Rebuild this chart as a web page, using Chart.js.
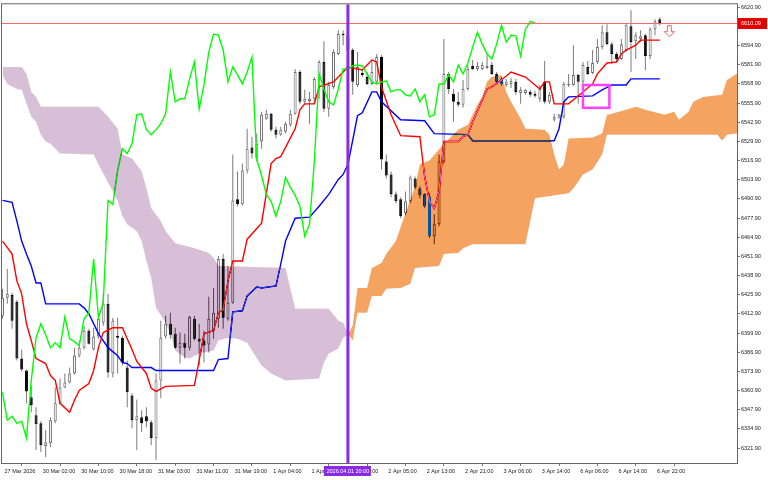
<!DOCTYPE html>
<html>
<head>
<meta charset="utf-8">
<script src="https://cdn.jsdelivr.net/npm/chart.js@4.4.1/dist/chart.umd.min.js"></script>
<style>
  html, body { margin: 0; padding: 0; background: #fff; }
  canvas { display: block; }
</style>
</head>
<body>
<canvas id="chart" width="768" height="480"></canvas>
<script>
// H1 bars, bar 0 = 27 Mar 2026 16:00 ... bar 137 = 6 Apr 23:00
const OPEN = [
  6411.6,6423.8,6425.8,6421.1,6382.6,6374.5,6356.3,6344.1,6338.7,6323.2,
  6325.2,6340.1,6352.2,6363.0,6366.4,6372.5,6384.6,6390.0,6401.5,6388.7,
  6397.5,6406.9,6419.7,6372.5,6398.1,6396.8,6376.5,6357.6,6340.8,6342.8,
  6343.5,6339.4,6328.6,6367.8,6397.5,6406.2,6399.5,6390.0,6393.4,6390.0,
  6409.6,6396.1,6394.8,6392.1,6401.5,6409.6,6450.1,6409.6,6420.4,6490.6,
  6487.2,6510.2,6525.7,6518.3,6529.8,6545.3,6548.7,6537.9,6534.5,6536.5,
  6541.2,6548.7,6577.0,6556.8,6557.4,6558.8,6572.3,6583.8,6552.0,6566.9,
  6589.2,6602.7,6602.0,6591.9,6568.2,6576.3,6573.6,6568.9,6570.3,6587.1,
  6516.3,6507.5,6494.0,6490.6,6481.2,6489.3,6504.8,6498.0,6494.0,6492.6,
  6465.6,6473.7,6516.3,6575.7,6562.2,6556.8,6554.7,6565.5,6581.1,6579.0,
  6579.0,6579.7,6581.7,6575.7,6572.3,6568.2,6568.9,6570.3,6562.8,6562.8,
  6563.5,6562.2,6558.8,6570.3,6556.8,6544.6,6546.0,6546.6,6568.2,6568.2,
  6575.0,6570.3,6580.4,6576.3,6583.8,6593.9,6604.0,6595.9,6589.2,6585.8,
  6591.9,6608.1,6597.9,6599.3,6602.0,6587.8,6606.0,6612.8
];
const HIGH = [
  6429.9,6443.4,6427.2,6422.4,6388.7,6375.2,6364.4,6349.5,6340.1,6334.0,
  6342.8,6363.0,6369.1,6372.5,6376.5,6390.0,6394.8,6404.9,6402.9,6403.5,
  6413.7,6426.5,6426.5,6410.3,6410.3,6398.1,6381.3,6359.0,6354.9,6347.5,
  6349.5,6340.8,6372.5,6408.3,6411.6,6413.7,6403.5,6400.2,6399.5,6411.6,
  6411.6,6406.2,6401.5,6424.5,6430.5,6452.1,6453.5,6445.4,6521.0,6509.5,
  6514.9,6538.5,6533.1,6535.2,6550.0,6551.4,6549.3,6539.9,6539.9,6543.3,
  6551.4,6579.0,6578.4,6564.9,6563.5,6573.6,6585.1,6597.9,6570.3,6592.5,
  6605.4,6605.4,6605.4,6593.2,6590.5,6579.0,6577.0,6583.8,6589.2,6588.5,
  6521.0,6509.5,6496.0,6492.0,6496.0,6506.8,6506.1,6499.4,6494.7,6494.7,
  6480.5,6521.0,6599.3,6577.0,6565.5,6563.5,6571.6,6581.7,6585.1,6583.8,
  6583.8,6588.5,6583.8,6577.0,6573.6,6572.3,6573.0,6572.3,6566.9,6565.5,
  6564.9,6564.2,6568.2,6584.4,6563.5,6548.7,6548.7,6570.3,6575.7,6595.2,
  6575.7,6583.8,6584.4,6591.9,6599.3,6608.7,6609.4,6597.3,6590.5,6599.3,
  6609.4,6618.9,6604.0,6605.4,6602.7,6607.4,6612.8,6614.1
];
const LOW = [
  6409.6,6419.7,6402.9,6381.3,6373.8,6352.2,6346.2,6320.5,6319.2,6315.8,
  6322.5,6338.7,6351.6,6362.4,6365.7,6371.8,6383.3,6388.7,6392.1,6388.0,
  6396.1,6404.9,6369.8,6369.8,6372.5,6377.9,6349.5,6335.4,6320.5,6332.7,
  6336.0,6323.9,6313.8,6355.6,6396.1,6396.1,6389.4,6379.2,6382.6,6388.0,
  6394.8,6377.9,6379.9,6386.7,6396.1,6403.5,6402.9,6408.3,6419.7,6485.9,
  6486.6,6508.2,6518.3,6516.3,6525.0,6544.6,6536.5,6531.8,6533.8,6535.2,
  6539.9,6548.0,6555.4,6555.4,6541.9,6556.8,6558.8,6550.0,6546.6,6565.5,
  6588.5,6595.2,6590.5,6561.5,6566.9,6573.6,6568.2,6568.2,6568.9,6510.9,
  6504.8,6492.0,6487.9,6477.8,6479.8,6487.9,6497.4,6491.3,6484.5,6464.3,
  6460.2,6472.4,6514.9,6562.2,6543.3,6553.4,6552.7,6564.2,6578.4,6577.7,
  6578.4,6579.0,6575.0,6568.9,6567.6,6566.9,6566.2,6561.5,6555.4,6561.5,
  6560.1,6559.5,6556.8,6555.4,6555.4,6543.3,6545.3,6545.3,6566.9,6567.6,
  6555.4,6568.9,6575.0,6575.7,6582.4,6592.5,6595.2,6582.4,6583.8,6585.1,
  6590.5,6577.0,6585.8,6597.3,6578.4,6585.8,6602.0,6608.7
];
const CLOSE = [
  6423.8,6426.5,6408.3,6382.6,6375.2,6360.3,6350.9,6338.1,6323.9,6325.9,
  6340.8,6352.2,6363.0,6366.4,6372.5,6384.6,6390.0,6401.5,6392.7,6397.5,
  6409.6,6419.7,6373.2,6408.3,6396.8,6379.9,6359.7,6340.8,6343.5,6338.7,
  6340.1,6328.6,6367.8,6396.8,6406.2,6398.8,6390.0,6393.4,6390.0,6411.0,
  6396.1,6394.1,6391.4,6409.6,6413.7,6450.1,6410.3,6420.4,6489.9,6487.2,
  6510.2,6525.0,6521.7,6528.4,6548.0,6548.7,6537.9,6534.5,6537.9,6541.9,
  6548.7,6577.0,6556.8,6558.8,6558.8,6572.3,6583.8,6552.0,6568.2,6590.5,
  6602.7,6602.0,6591.9,6570.3,6580.4,6575.0,6568.9,6577.0,6587.1,6517.6,
  6506.8,6494.0,6489.3,6479.1,6489.3,6505.5,6498.7,6493.3,6485.9,6465.6,
  6473.7,6516.3,6575.7,6565.5,6556.8,6554.7,6565.5,6579.0,6579.0,6581.1,
  6581.7,6581.1,6575.7,6570.3,6568.9,6570.3,6570.9,6563.5,6564.9,6564.9,
  6561.5,6560.8,6565.5,6556.8,6561.5,6546.6,6548.0,6568.9,6568.9,6575.0,
  6570.3,6581.7,6575.7,6583.1,6593.9,6604.0,6595.9,6589.2,6585.8,6595.9,
  6608.7,6597.3,6602.0,6601.3,6587.8,6606.0,6611.4,6610.09
];

// green lagging line, bars 0..111
const CHIKOU = [
  6359.7,6340.8,6343.5,6338.7,6340.1,6328.6,6367.8,6396.8,6406.2,6398.8,
  6390.0,6393.4,6390.0,6411.0,6396.1,6394.1,6391.4,6409.6,6413.7,6450.1,
  6410.3,6420.4,6489.9,6487.2,6510.2,6525.0,6521.7,6528.4,6548.0,6548.7,
  6537.9,6534.5,6537.9,6541.9,6548.7,6577.0,6556.8,6558.8,6558.8,6572.3,
  6583.8,6552.0,6568.2,6590.5,6602.7,6602.0,6591.9,6570.3,6580.4,6575.0,
  6568.9,6577.0,6587.1,6517.6,6506.8,6494.0,6489.3,6479.1,6489.3,6505.5,
  6498.7,6493.3,6485.9,6465.6,6473.7,6516.3,6575.7,6565.5,6556.8,6554.7,
  6565.5,6579.0,6579.0,6581.1,6581.7,6581.1,6575.7,6570.3,6568.9,6570.3,
  6570.9,6563.5,6564.9,6564.9,6561.5,6560.8,6565.5,6556.8,6561.5,6546.6,
  6548.0,6568.9,6568.9,6575.0,6570.3,6581.7,6575.7,6583.1,6593.9,6604.0,
  6595.9,6589.2,6585.8,6595.9,6608.7,6597.3,6602.0,6601.3,6587.8,6606.0,
  6611.4,6610.1
];

// [bar, price] corners of the step lines
const TENKAN = [[0,6462.3],[2,6453.5],[3,6435.3],[4,6426.5],[5,6406.2],[6,6394.8],[7,6382.6],[9,6379.2],[10,6371.1],[11,6367.8],[12,6352.2],[14,6346.2],[15,6354.3],[16,6361.0],[18,6365.7],[19,6374.5],[20,6390.0],[21,6400.2],[23,6403.5],[25,6403.5],[26,6396.1],[27,6388.7],[28,6380.6],[30,6372.5],[31,6362.4],[32,6360.3],[34,6363.7],[40,6364.4],[41,6381.3],[42,6399.5],[44,6401.5],[45,6413.7],[46,6415.7],[47,6435.3],[48,6448.8],[50,6448.8],[51,6463.6],[54,6474.4],[56,6514.9],[57,6518.3],[58,6519.6],[61,6538.5],[62,6551.4],[63,6555.4],[65,6555.4],[66,6566.9],[69,6570.3],[70,6573.6],[72,6580.4],[75,6578.4],[77,6585.1],[78,6583.8],[79,6566.9],[81,6548.0],[83,6533.8],[87,6533.1],[88,6506.1],[89,6489.3],[90,6484.5],[91,6496.0],[92,6529.8],[95,6529.8],[96,6533.1],[97,6534.5],[98,6543.3],[101,6565.5],[102,6566.9],[104,6571.6],[106,6577.0],[109,6573.6],[111,6568.2],[112,6565.5],[113,6570.3],[114,6570.3],[115,6555.4],[118,6555.4],[123,6568.9],[124,6575.7],[126,6583.1],[128,6583.8],[129,6589.2],[130,6591.9],[132,6595.2],[133,6598.6],[137,6598.6]];
const KIJUN = [[0,6489.9],[2,6488.6],[3,6475.8],[4,6462.3],[5,6453.5],[6,6445.4],[7,6433.9],[8,6433.9],[9,6419.7],[16,6419.7],[17,6417.0],[18,6413.0],[20,6399.5],[22,6390.0],[24,6384.6],[25,6379.9],[26,6379.2],[27,6376.5],[31,6376.5],[32,6374.5],[44,6374.5],[45,6381.9],[47,6382.6],[48,6414.3],[50,6415.0],[51,6425.1],[53,6431.2],[54,6430.5],[57,6431.9],[58,6446.7],[59,6462.3],[61,6477.8],[64,6478.5],[66,6485.9],[68,6494.0],[70,6504.1],[71,6507.5],[72,6514.2],[74,6547.3],[75,6549.3],[77,6563.5],[78,6563.5],[79,6556.8],[83,6544.6],[88,6543.9],[90,6535.2],[97,6534.5],[98,6530.4],[115,6530.4],[116,6538.5],[117,6556.8],[118,6560.1],[123,6560.8],[125,6564.9],[127,6568.2],[130,6568.2],[131,6572.3],[137,6572.3]];
const SENKOU_A = [[0,6575.0],[1,6568.9],[3,6565.5],[4,6564.9],[6,6546.6],[7,6543.3],[8,6534.5],[9,6529.8],[10,6528.4],[12,6521.7],[19,6521.0],[20,6514.2],[23,6496.0],[24,6489.9],[25,6479.1],[26,6473.7],[28,6469.0],[29,6462.3],[30,6448.8],[31,6437.3],[32,6417.0],[34,6406.9],[35,6399.5],[36,6388.0],[38,6383.3],[39,6382.6],[41,6386.0],[44,6388.0],[45,6394.8],[47,6396.8],[49,6396.1],[51,6393.4],[52,6388.0],[54,6377.9],[56,6372.5],[59,6367.8],[66,6369.1],[67,6379.9],[68,6386.0],[70,6389.4],[71,6396.8],[72,6398.8],[73,6404.9],[74,6430.5],[76,6430.5],[77,6444.0],[79,6447.4],[80,6453.5],[82,6462.3],[84,6481.2],[86,6499.4],[87,6514.2],[89,6516.9],[92,6528.4],[95,6537.9],[97,6541.2],[99,6554.7],[100,6560.1],[101,6570.3],[102,6573.6],[104,6575.0],[105,6563.5],[106,6556.8],[108,6545.3],[109,6538.5],[113,6537.9],[114,6534.5],[115,6521.0],[116,6510.9],[117,6514.2],[118,6531.8],[123,6532.5],[125,6535.2],[126,6548.0],[127,6548.7],[130,6551.4],[132,6553.4],[134,6551.4],[138,6548.0],[140,6550.0],[141,6544.6],[143,6550.0],[144,6556.8],[146,6560.1],[150,6561.5],[151,6571.6],[153,6575.7],[156,6575.7]];
const SENKOU_B = [[0,6580.4],[4,6580.4],[5,6575.7],[6,6563.5],[7,6560.1],[8,6553.4],[20,6553.4],[22,6546.6],[24,6538.5],[25,6521.0],[27,6518.3],[29,6509.5],[30,6498.0],[31,6484.5],[33,6475.8],[34,6469.0],[36,6460.9],[40,6457.5],[43,6454.2],[44,6450.8],[45,6445.4],[59,6444.0],[60,6429.9],[61,6416.4],[68,6416.4],[70,6408.3],[71,6406.9],[72,6399.5],[73,6394.8],[74,6413.7],[76,6413.7],[77,6425.1],[79,6425.1],[80,6429.9],[83,6430.5],[85,6433.2],[86,6444.0],[91,6445.4],[92,6453.5],[95,6454.2],[96,6457.5],[98,6460.2],[109,6460.2],[111,6491.3],[118,6494.7],[119,6498.0],[121,6507.5],[123,6510.9],[125,6521.0],[126,6534.5],[149,6534.5],[150,6530.4],[151,6534.5],[153,6535.2],[156,6535.2]];

const X_TICK_BARS = [0,8,16,24,32,40,48,56,64,72,80,88,96,104,112,120,128,136];
const X_LABELS = ['27 Mar 2026','30 Mar 02:00','30 Mar 10:00','30 Mar 18:00','31 Mar 03:00','31 Mar 11:00','31 Mar 19:00','1 Apr 04:00','1 Apr 12:00','1 Apr 20:00','2 Apr 05:00','2 Apr 13:00','2 Apr 21:00','3 Apr 06:00','3 Apr 14:00','6 Apr 06:00','6 Apr 14:00','6 Apr 22:00'];
const Y_TICKS = [6321.9,6334.9,6347.9,6360.9,6373.9,6386.9,6399.9,6412.9,6425.9,6438.9,6451.9,6464.9,6477.9,6490.9,6503.9,6516.9,6529.9,6542.9,6555.9,6568.9,6581.9,6594.9,6607.9,6620.9];

const LAST_PRICE = 6610.09;
const MARK_BAR = 72, MARK_LABEL = '2026.04.01 20:00';
const BOX_BARS = [121, 126.5], BOX_PRICES = [6568.2, 6552.7];
const ARROW_BAR = 139, ARROW_PRICE = 6608.4;

const FONT = { family: 'Liberation Sans', size: 5.5 };
const bars = CLOSE.map((_, i) => i);
const up = bars.map(i => CLOSE[i] >= OPEN[i]);
const pts = arr => arr.map(([b, p]) => ({ x: b, y: p }));

// MT5 paints the kumo in XOR fashion: lines and candles inside it change colour.
// Emulated with a 'difference' fill of the inverted cloud colours, drawn last.
const overlay = {
  id: 'overlay',
  beforeDraw(chart) {
    const c = chart.ctx;
    c.save(); c.fillStyle = '#fff'; c.fillRect(0, 0, chart.width, chart.height); c.restore();
  },
  afterDatasetDraw(chart, args) {
    const lbl = chart.data.datasets[args.index].label;
    if (lbl === 'Chikou') chart.ctx.globalCompositeOperation = 'difference';
    if (lbl === 'Senkou B') chart.ctx.globalCompositeOperation = 'source-over';
  },
  afterDraw(chart) {
    const { ctx, chartArea: a, scales: { x, y } } = chart;
    ctx.save();
    ctx.globalCompositeOperation = 'source-over';
    ctx.strokeStyle = '#666'; ctx.lineWidth = 1;
    ctx.strokeRect(a.left - 0.5, a.top - 0.5, a.right - a.left + 1, a.bottom - a.top + 1);

    ctx.save();
    ctx.beginPath(); ctx.rect(a.left, a.top, a.right - a.left, a.bottom - a.top); ctx.clip();
    // last price line
    const py = Math.round(y.getPixelForValue(LAST_PRICE));
    ctx.fillStyle = '#f26a6a';
    ctx.fillRect(a.left, py, a.right - a.left, 1);
    // vertical time marker
    const mx = x.getPixelForValue(MARK_BAR);
    ctx.strokeStyle = '#8a2be2'; ctx.lineWidth = 3;
    ctx.beginPath(); ctx.moveTo(mx, a.top); ctx.lineTo(mx, a.bottom); ctx.stroke();
    // magenta box
    const bx0 = x.getPixelForValue(BOX_BARS[0]), bx1 = x.getPixelForValue(BOX_BARS[1]);
    const by0 = y.getPixelForValue(BOX_PRICES[0]), by1 = y.getPixelForValue(BOX_PRICES[1]);
    ctx.strokeStyle = '#ff40ff'; ctx.lineWidth = 2.5;
    ctx.strokeRect(bx0, by0, bx1 - bx0, by1 - by0);
    // hollow sell arrow
    const ax = x.getPixelForValue(ARROW_BAR), ay = y.getPixelForValue(ARROW_PRICE);
    ctx.beginPath();
    ctx.moveTo(ax - 2, ay); ctx.lineTo(ax + 2, ay); ctx.lineTo(ax + 2, ay + 6);
    ctx.lineTo(ax + 5, ay + 6); ctx.lineTo(ax, ay + 11); ctx.lineTo(ax - 5, ay + 6);
    ctx.lineTo(ax - 2, ay + 6); ctx.closePath();
    ctx.fillStyle = '#fff'; ctx.fill();
    ctx.strokeStyle = '#f06464'; ctx.lineWidth = 1; ctx.stroke();
    ctx.restore();

    // price tag on the right axis
    ctx.fillStyle = '#e00000';
    ctx.fillRect(a.right + 1, py - 5, 29, 11);
    ctx.fillStyle = '#fff';
    ctx.font = `${FONT.size}px "${FONT.family}"`;
    ctx.textBaseline = 'middle'; ctx.textAlign = 'left';
    ctx.fillText(LAST_PRICE.toFixed(2), a.right + 4, py + 0.5);
    // time tag under the marker
    ctx.fillStyle = '#8a2be2';
    ctx.fillRect(mx - 24, a.bottom + 3, 47, 10);
    ctx.fillStyle = '#fff'; ctx.textAlign = 'center';
    ctx.fillText(MARK_LABEL, mx, a.bottom + 8);
    ctx.restore();
  }
};

const lineDs = (label, data, color, order) => ({
  type: 'line', label, data, order, borderColor: color, borderWidth: 1.4,
  pointRadius: 0, fill: false, tension: 0
});

new Chart(document.getElementById('chart'), {
  type: 'line',
  data: {
    datasets: [
      { type: 'bar', label: 'Wicks', order: 10,
        data: bars.map(i => ({ x: i, y: [LOW[i], HIGH[i]] })),
        backgroundColor: '#7a7a7a', borderWidth: 0, barThickness: 1,
        grouped: false, inflateAmount: 0 },
      { type: 'bar', label: 'Bodies', order: 9,
        data: bars.map(i => ({ x: i, y: [OPEN[i], CLOSE[i]] })),
        backgroundColor: bars.map(i => up[i] ? '#ffffff' : '#000000'),
        borderColor: bars.map(i => up[i] ? '#6e6e6e' : '#000000'),
        borderWidth: 1, borderSkipped: false, barThickness: 3, minBarLength: 1,
        grouped: false, inflateAmount: 0 },
      lineDs('Kijun', pts(KIJUN), '#0000ff', 8),
      lineDs('Tenkan', pts(TENKAN), '#ff0000', 7),
      lineDs('Chikou', CHIKOU.map((p, i) => ({ x: i, y: p })), '#00ff00', 6),
      { type: 'line', label: 'Senkou A', order: 5, data: pts(SENKOU_A),
        borderWidth: 0, borderColor: 'transparent', pointRadius: 0, tension: 0,
        fill: { target: '+1', above: 'rgb(11,91,159)', below: 'rgb(39,64,39)' } },
      { type: 'line', label: 'Senkou B', order: 4, data: pts(SENKOU_B),
        borderWidth: 0, borderColor: 'transparent', pointRadius: 0, tension: 0, fill: false }
    ]
  },
  options: {
    responsive: false,
    animation: false,
    events: [],
    layout: { padding: { left: 2, top: 2, right: 0, bottom: 0 } },
    plugins: { legend: { display: false }, tooltip: { enabled: false } },
    scales: {
      x: {
        type: 'linear', min: -0.1, max: 153.1, offset: false,
        afterBuildTicks: s => { s.ticks = X_TICK_BARS.map(v => ({ value: v })); },
        afterFit: s => { s.height = 17; },
        ticks: { autoSkip: false, maxRotation: 0, align: 'start', labelOffset: 2, padding: 2,
                 color: '#222', font: FONT, callback: (v, i) => X_LABELS[i] },
        grid: { drawOnChartArea: false, drawTicks: true, tickLength: 3, color: '#777' },
        border: { display: false }
      },
      y: {
        type: 'linear', position: 'right', min: 6311.75, max: 6622.92,
        afterBuildTicks: s => { s.ticks = Y_TICKS.map(v => ({ value: v })); },
        afterFit: s => { s.width = 31; },
        ticks: { autoSkip: false, padding: 1, color: '#222', font: FONT,
                 callback: v => v.toFixed(2) },
        grid: { drawOnChartArea: false, drawTicks: true, tickLength: 3, color: '#777' },
        border: { display: false }
      }
    }
  },
  plugins: [overlay]
});
</script>
</body>
</html>
